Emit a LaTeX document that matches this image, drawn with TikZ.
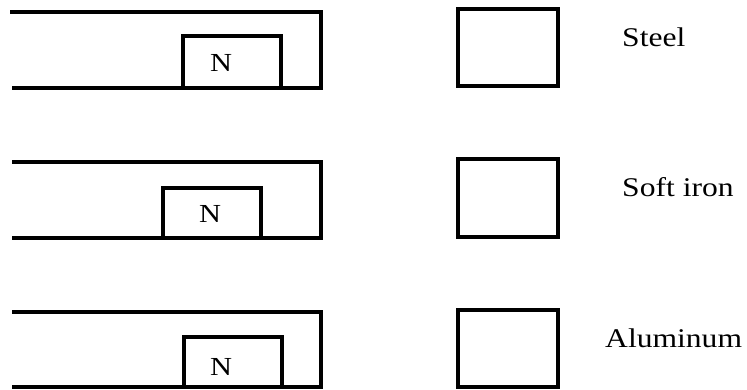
\documentclass[tikz,border=0pt]{standalone}
\usepackage{fontspec}
\setmainfont{Liberation Serif}
\begin{document}
\begin{tikzpicture}[x=1pt,y=-1pt,
  thick line/.style={line width=3.4pt,line join=miter},
  lbl/.style={anchor=base west,inner sep=0pt,font=\fontsize{27}{30}\selectfont},
  pole/.style={anchor=base,inner sep=0pt,font=\fontsize{26}{30}\selectfont}]
\useasboundingbox (0,0) rectangle (747,390);
% --- magnet holders (open on the left)
\draw[thick line] (10,12) -- (321,12) -- (321,88) -- (12,88);
\draw[thick line] (12,162) -- (321,162) -- (321,238) -- (12,238);
\draw[thick line] (12,312) -- (321,312) -- (321,387) -- (12,387);
% --- magnets
\draw[thick line] (183,88) -- (183,36) -- (281,36) -- (281,88);
\draw[thick line] (163,238) -- (163,188) -- (261,188) -- (261,238);
\draw[thick line] (184,387) -- (184,337) -- (282,337) -- (282,387);
\node[pole] (n1) at (221,72) {\scalebox{1.17}[1]{N}};
\node[pole] (n2) at (210,223) {\scalebox{1.17}[1]{N}};
\node[pole] (n3) at (221,375) {\scalebox{1.17}[1]{N}};
% --- sample blocks
\draw[thick line] (458,9) rectangle (558,86);
\draw[thick line] (458,159) rectangle (558,237);
\draw[thick line] (458,310) rectangle (558,387);
% --- labels
\node[lbl] (steel) at (622,47) {\scalebox{1.17}[1]{Steel}};
\node[lbl] (iron) at (622,197) {\scalebox{1.17}[1]{Soft iron}};
\node[lbl] (alu) at (605,347) {\scalebox{1.17}[1]{Aluminum}};
\end{tikzpicture}
\end{document}
